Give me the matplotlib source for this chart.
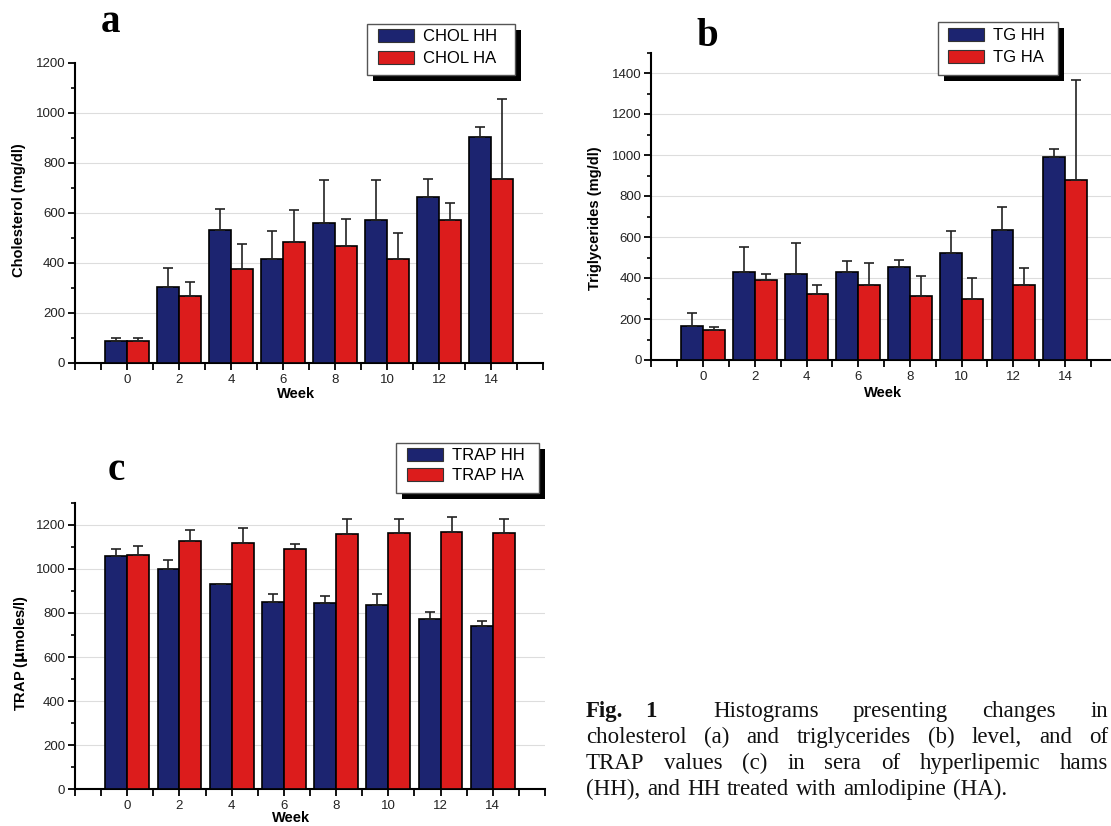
import numpy as np
import matplotlib
matplotlib.use('Agg')
import matplotlib.pyplot as plt
from matplotlib.patches import Patch, Rectangle
from matplotlib.ticker import MultipleLocator

W, H = 1111, 826

# ---- data ----
weeks = [0, 2, 4, 6, 8, 10, 12, 14]

chol_hh = [86, 303, 532, 415, 560, 569, 664, 901]
chol_hh_err = [11, 76, 83, 113, 169, 160, 72, 40]
chol_ha = [86, 266, 376, 482, 468, 415, 569, 736]
chol_ha_err = [11, 57, 100, 127, 105, 102, 68, 319]

tg_hh = [168, 430, 420, 430, 456, 521, 633, 988]
tg_hh_err = [60, 119, 150, 53, 34, 106, 113, 39]
tg_ha = [147, 391, 324, 366, 311, 300, 366, 879]
tg_ha_err = [16, 29, 42, 108, 98, 99, 82, 485]

trap_hh = [1058, 997, 929, 850, 845, 838, 774, 739]
trap_hh_err = [33, 45, 0, 35, 31, 47, 29, 25]
trap_ha = [1061, 1126, 1118, 1088, 1159, 1162, 1167, 1161]
trap_ha_err = [42, 50, 68, 26, 65, 62, 69, 63]

caption_head = ["Fig.", "1"]
caption_lines = [
    "Histograms presenting changes in",
    "cholesterol (a) and triglycerides (b) level, and of",
    "TRAP values (c) in sera of hyperlipemic hams",
    "(HH), and HH treated with amlodipine (HA).",
]

NAVY = '#1c2470'
RED = '#dc1c1c'

plt.rcParams['font.family'] = ['Liberation Sans', 'DejaVu Sans']

fig = plt.figure(figsize=(W / 100, H / 100), dpi=100)
fig.patch.set_facecolor('white')


def px_axes(left, top, right, bottom):
    return fig.add_axes([left / W, 1 - bottom / H, (right - left) / W, (bottom - top) / H])


def fig_xy(px, py):
    return px / W, 1 - py / H


def draw_panel(ax, hh, hh_err, ha, ha_err, ymax, ylabel, ylab_xy, week_xy):
    x = np.arange(len(weeks))
    bw = 0.42
    ax.bar(x - bw / 2, hh, bw, color=NAVY, edgecolor='black', linewidth=1.2, zorder=3)
    ax.bar(x + bw / 2, ha, bw, color=RED, edgecolor='black', linewidth=1.2, zorder=3)
    zeros = np.zeros(len(weeks))
    for xs, ys, es in [(x - bw / 2, hh, hh_err), (x + bw / 2, ha, ha_err)]:
        ax.errorbar(xs, ys, yerr=[zeros, es], fmt='none', ecolor='#222222',
                    elinewidth=1.2, capsize=3.5, capthick=1.2, zorder=4)

    ax.set_xlim(-1, 8)
    ax.set_ylim(0, ymax)

    ticks = np.arange(-1, 8.01, 0.5)
    labels = [str(weeks[int(t)]) if float(t).is_integer() and 0 <= t < 8 else ''
              for t in ticks]
    ax.set_xticks(ticks)
    ax.set_xticklabels(labels)
    ax.set_yticks(np.arange(0, ymax + 1, 200))
    ax.yaxis.set_minor_locator(MultipleLocator(100))

    ax.tick_params(axis='both', which='major', direction='out', length=5, width=1.3,
                   labelsize=9.5, labelcolor='#222222')
    ax.tick_params(axis='x', pad=3)
    ax.tick_params(axis='y', pad=2)
    ax.tick_params(axis='y', which='minor', direction='out', length=3, width=1.2)

    for s in ['top', 'right']:
        ax.spines[s].set_visible(False)
    for s in ['left', 'bottom']:
        ax.spines[s].set_linewidth(1.5)

    ax.yaxis.grid(True, color='#dddddd', linewidth=0.8)
    ax.set_axisbelow(True)
    if ymax % 200 == 0:
        ax.get_ygridlines()[-1].set_visible(False)

    ax.set_ylabel(ylabel, fontsize=10.5, fontweight='bold')
    ax.yaxis.set_label_coords(*ylab_xy)
    ax.yaxis.label.set_va('center')
    ax.set_xlabel('Week', fontsize=10.5, fontweight='bold')
    ax.xaxis.set_label_coords(*week_xy)
    ax.xaxis.label.set_va('center')


def add_legend(labels, box, handle_left, row_top, spacing):
    l, t, r, b = box
    # drop shadow and frame, in figure pixels
    fig.add_artist(Rectangle(fig_xy(l + 6, b + 6), (r - l) / W, (b - t) / H,
                             transform=fig.transFigure, facecolor='black',
                             edgecolor='none', zorder=4))
    fig.add_artist(Rectangle(fig_xy(l, b), (r - l) / W, (b - t) / H,
                             transform=fig.transFigure, facecolor='white',
                             edgecolor='#555555', linewidth=1.0, zorder=4.5))
    handles = [Patch(facecolor=NAVY, edgecolor='#333333', linewidth=0.8, label=labels[0]),
               Patch(facecolor=RED, edgecolor='#333333', linewidth=0.8, label=labels[1])]
    fig.legend(handles=handles, loc='upper left',
               bbox_to_anchor=fig_xy(handle_left, row_top), bbox_transform=fig.transFigure,
               frameon=False, fontsize=12, handlelength=2.15, handleheight=0.85,
               handletextpad=0.55, labelspacing=spacing, borderpad=0,
               borderaxespad=0).set_zorder(5)


# panel a
ax_a = px_axes(75, 62.7, 543, 362.7)
draw_panel(ax_a, chol_hh, chol_hh_err, chol_ha, chol_ha_err, 1200,
           'Cholesterol (mg/dl)', (-0.12, 0.51), (0.472, -0.105))

# panel b (axis runs off the right edge, as in the original)
ax_b = px_axes(651.4, 52.5, 651.4 + 9 * 51.7, 360)
draw_panel(ax_b, tg_hh, tg_hh_err, tg_ha, tg_ha_err, 1500,
           'Triglycerides (mg/dl)', (-0.122, 0.46), (0.498, -0.107))

# panel c
ax_c = px_axes(75, 502.7, 545, 789.3)
draw_panel(ax_c, trap_hh, trap_hh_err, trap_ha, trap_ha_err, 1300,
           r'TRAP ($\mathbf{\mu}$moles/l)', (-0.115, 0.477), (0.46, -0.1))

add_legend(['CHOL HH', 'CHOL HA'], (367, 24, 515, 75), 378, 29, 0.38)
add_legend(['TG HH', 'TG HA'], (938, 22, 1058, 75), 948, 28, 0.38)
add_legend(['TRAP HH', 'TRAP HA'], (396, 443, 539, 493), 407, 448, 0.28)

# panel letters
for letter, (px, py) in zip('abc', [(111, 23), (707, 37), (116, 470)]):
    fig.text(*fig_xy(px, py), letter, fontfamily='Liberation Serif',
             fontweight='bold', fontsize=28, ha='center', va='center')

# caption, justified
renderer = fig.canvas.get_renderer()
cap_size = 16.5
cap_right = 1108
baselines = [717, 743, 769, 795]
starts = [713, 586, 586, 586]

for word, px in zip(caption_head, [586, 645]):
    fig.text(*fig_xy(px, baselines[0]), word, fontfamily='Liberation Serif',
             fontsize=cap_size, fontweight='bold', va='baseline', ha='left', color='#111111')

for i, line in enumerate(caption_lines):
    words = line.split()
    texts = [fig.text(0, 1 - baselines[i] / H, w, fontfamily='Liberation Serif',
                      fontsize=cap_size, va='baseline', ha='left', color='#111111')
             for w in words]
    widths = [t.get_window_extent(renderer).width for t in texts]
    if i < len(caption_lines) - 1:
        gap = (cap_right - starts[i] - sum(widths)) / (len(words) - 1)
    else:
        gap = cap_size * 100 / 72 * 0.3
    xpos = starts[i]
    for t, w in zip(texts, widths):
        t.set_x(xpos / W)
        xpos += w + gap

fig.savefig('out.png', dpi=100, facecolor='white')
